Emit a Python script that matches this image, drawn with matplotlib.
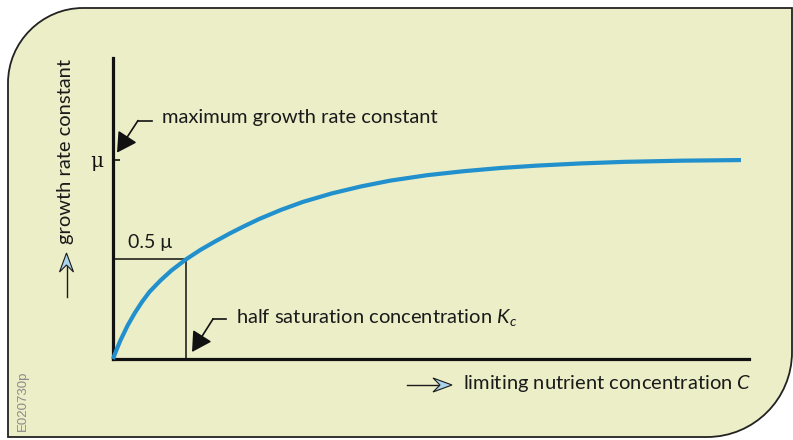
import numpy as np
import matplotlib
matplotlib.use("Agg")
import matplotlib.pyplot as plt
from matplotlib.path import Path
from matplotlib.patches import PathPatch, FancyArrowPatch, Polygon

plt.rcParams["font.family"] = ["Lato", "DejaVu Sans"]
plt.rcParams["mathtext.fontset"] = "custom"
plt.rcParams["mathtext.rm"] = "Lato"
plt.rcParams["mathtext.it"] = "Lato:italic"

# Monod-type growth curve, concentration in units of K_c, rate in units of mu
conc = [0, 0.05, 0.1, 0.2, 0.3, 0.4, 0.5, 0.65, 0.8, 1.0, 1.2, 1.4, 1.6,
        1.8, 2.0, 2.3, 2.6, 3.0, 3.4, 3.8, 4.3, 4.8, 5.3, 5.8, 6.4, 7.0,
        7.8, 8.6]
rate = [0, 0.048, 0.092, 0.168, 0.232, 0.288, 0.337, 0.394, 0.444, 0.500,
        0.548, 0.590, 0.630, 0.667, 0.702, 0.748, 0.788, 0.831, 0.866,
        0.895, 0.922, 0.942, 0.958, 0.970, 0.981, 0.989, 0.995, 0.998]
MU = 1.0
K_HALF = 1.0
X_MAX = 8.71
Y_MAX = 1.51

BG = "#ECEEC7"
BLUE = "#2190CC"
DART = "#A9D4EC"
INK = "#1a1a1a"
FS = 14.5

W, H = 793, 440
fig = plt.figure(figsize=(W / 100, H / 100), dpi=100)

# pixel-space layer for the panel and axis captions
bg = fig.add_axes([0, 0, 1, 1])
bg.set_xlim(0, W)
bg.set_ylim(H, 0)
bg.axis("off")

# panel with rounded top-left and bottom-right corners
verts = [
    (8, 83), (8, 437), (707, 437),
    (754, 437), (792, 399), (792, 352),
    (792, 8), (83, 8),
    (42, 8), (8, 42), (8, 83),
]
codes = [Path.MOVETO, Path.LINETO, Path.LINETO,
         Path.CURVE4, Path.CURVE4, Path.CURVE4,
         Path.LINETO, Path.LINETO,
         Path.CURVE4, Path.CURVE4, Path.CURVE4]
bg.add_patch(PathPatch(Path(verts, codes), facecolor=BG, edgecolor="#222222",
                       lw=1.3, zorder=0))


def dart(x, y, direction, size=1.0):
    # light blue notched arrowhead, pointing right or up
    L, w, n = 19 * size, 7 * size, 7 * size
    if direction == "right":
        pts = [(x, y), (x - L, y - w), (x - L + n, y), (x - L, y + w)]
    else:
        pts = [(x, y), (x - w, y + L), (x, y + L - n), (x + w, y + L)]
    bg.add_patch(Polygon(pts, closed=True, facecolor=DART,
                         edgecolor=INK, lw=0.8, zorder=3))


# x caption
bg.plot([407, 440], [385, 385], color=INK, lw=1.0, zorder=2)
dart(452, 385, "right")
bg.text(463, 384, "limiting nutrient concentration $C$", fontsize=FS,
        va="center", ha="left", color=INK)

# y caption
bg.plot([66.5, 66.5], [297, 265], color=INK, lw=1.0, zorder=2)
dart(66.5, 253, "up")
bg.text(66, 151, "growth rate constant", fontsize=FS, rotation=90,
        va="center", ha="center", color=INK)

bg.text(23, 401, "E020730p", fontsize=9.5, rotation=90, va="center",
        ha="center", color="#8a8a8a", family="Liberation Sans")

# main plot
ax = fig.add_axes([113 / W, (H - 359) / H, (749 - 113) / W, (359 - 58) / H])
ax.patch.set_alpha(0)
ax.set_xlim(0, X_MAX)
ax.set_ylim(0, Y_MAX)
for s in ("top", "right"):
    ax.spines[s].set_visible(False)
for s in ("left", "bottom"):
    ax.spines[s].set_linewidth(2.3)
    ax.spines[s].set_color("#111111")
ax.set_xticks([])
ax.set_yticks([MU])
ax.set_yticklabels(["μ"], fontsize=FS, family=["DejaVu Serif"])
ax.tick_params(axis="y", direction="in", length=5, width=1.2, pad=7,
               colors="#111111")

ax.plot(conc, rate, color=BLUE, lw=3.0, solid_capstyle="butt",
        solid_joinstyle="round", clip_on=False, zorder=3)

# half saturation guides
ax.plot([0, K_HALF], [0.5 * MU, 0.5 * MU], color="#111111", lw=1.1, zorder=2)
ax.plot([K_HALF, K_HALF], [0, 0.5 * MU], color="#111111", lw=1.1, zorder=2)
ax.text(K_HALF / 2, 0.5 * MU + 0.085, "0.5 μ", fontsize=FS - 0.5,
        ha="center", va="center", color=INK)


def callout(tip, elbow, seg_end, text_x, text, text_y):
    ax.plot([elbow[0], seg_end], [elbow[1], elbow[1]], color="#111111",
            lw=1.2, clip_on=False)
    ax.add_patch(FancyArrowPatch(elbow, tip,
                                 arrowstyle="-|>,head_length=0.8,head_width=0.45",
                                 mutation_scale=15, color="#111111", lw=1.2,
                                 shrinkA=0, shrinkB=0, clip_on=False))
    ax.text(text_x, text_y, text, fontsize=FS, ha="left", va="center",
            color=INK)


callout((0.055, 1.035), (0.342, 1.196), 0.534, 0.671,
        "maximum growth rate constant", 1.211)
callout((1.082, 0.035), (1.37, 0.201), 1.548, 1.685,
        "half saturation concentration $K_c$", 0.206)

fig.savefig("out.png", dpi=100)
